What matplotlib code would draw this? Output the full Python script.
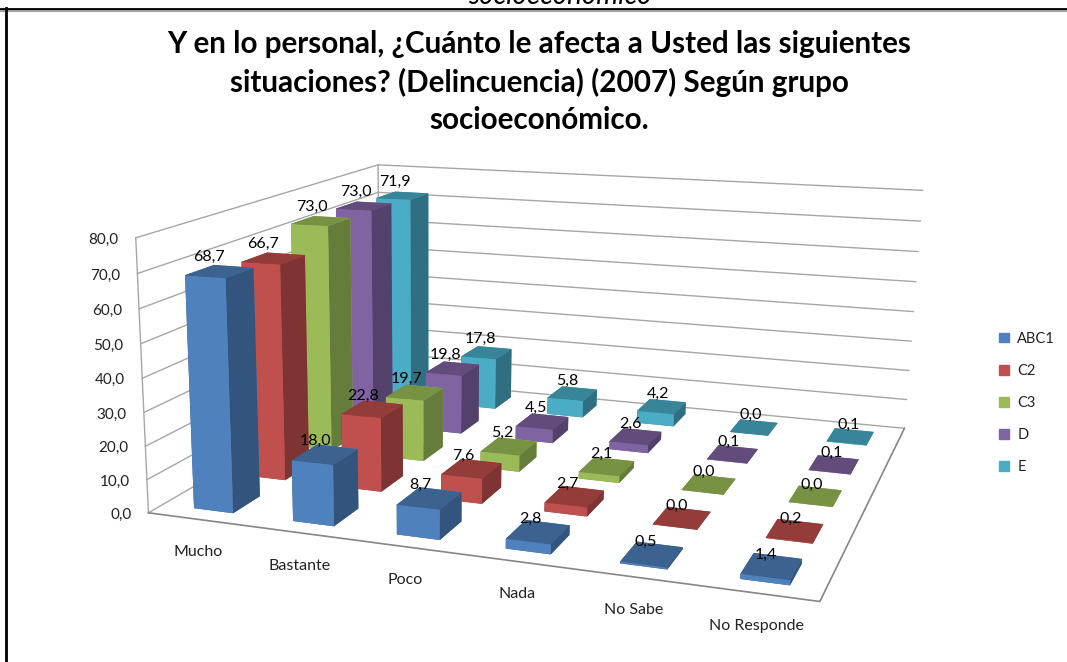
import numpy as np
import matplotlib
matplotlib.use('Agg')
import matplotlib.pyplot as plt
from matplotlib.lines import Line2D
from matplotlib.patches import Patch

categories = ['Mucho', 'Bastante', 'Poco', 'Nada', 'No Sabe', 'No Responde']
series_names = ['ABC1', 'C2', 'C3', 'D', 'E']
abc1 = [68.7, 18.0, 8.7, 2.8, 0.5, 1.4]
c2 = [66.7, 22.8, 7.6, 2.7, 0.0, 0.2]
c3 = [73.0, 19.7, 5.2, 2.1, 0.0, 0.0]
d = [73.0, 19.8, 4.5, 2.6, 0.1, 0.1]
e = [71.9, 17.8, 5.8, 4.2, 0.0, 0.1]
z_ticks = [0, 10, 20, 30, 40, 50, 60, 70, 80]

front_colors = ['#4F81BD', '#C0504D', '#9BBB59', '#8064A2', '#4BACC6']
top_colors = ['#3C6290', '#943C3A', '#789244', '#614C7C', '#38859A']
side_colors = ['#33547C', '#7E3432', '#667C3A', '#54416B', '#2F6F81']

W = 1067
H = 662

plt.rcParams['font.family'] = ['Lato', 'DejaVu Sans']

fig = plt.figure(figsize=(W / 100, H / 100), dpi=100, facecolor='white')
# square 3d axes as wide as the figure
ax = fig.add_axes([0, (H - W) / 2 / H, 1, W / H], projection='3d')
ax.set_axis_off()
ax.patch.set_visible(False)
ax.computed_zorder = False
ax.set_proj_type('ortho')  # switches off mplot3d's clipping, the camera is below

n_x = len(categories)
n_y = len(series_names)
z_top = z_ticks[-1]

# Excel's camera, calibrated from the corners of the chart box (image pixels)
box_points = [
    ((0, 0, 0), (150, 513)),
    ((n_x, 0, 0), (820, 601)),
    ((n_x, n_y, 0), (905, 429)),
    ((0, n_y, 0), (378, 378)),
    ((0, 0, z_top), (134, 238)),
    ((0, n_y, z_top), (380, 165)),
    ((n_x, n_y, z_top), (922, 190)),
]
rows = []
for (px, py, pz), (u, v) in box_points:
    rows.append([px, py, pz, 1, 0, 0, 0, 0, -u * px, -u * py, -u * pz, -u])
    rows.append([0, 0, 0, 0, px, py, pz, 1, -v * px, -v * py, -v * pz, -v])
cam = np.linalg.svd(np.array(rows, dtype=float))[2][-1].reshape(3, 4)
if cam[2] @ np.array([n_x / 2, n_y / 2, 0, 1]) < 0:
    cam = -cam
cam = cam / (cam[2] @ np.array([n_x / 2, n_y / 2, 0, 1]))

ax.apply_aspect()
to_view = ax.transData.inverted()
(x_a, y_a), (x_b, y_b) = to_view.transform([(0, H), (W, 0)])
sx = (x_b - x_a) / W
sy = (y_b - y_a) / H
M = np.array([
    sx * cam[0] + x_a * cam[2],
    sy * cam[1] + y_a * cam[2],
    cam[2] - np.array([0, 0, 0, 0.5]),
    cam[2],
])
ax.get_proj = lambda: M


def label_at(x, y, z, dx, dy, text, **kwargs):
    # put a 2d text next to the picture position of a data point
    p = cam @ np.array([x, y, z, 1])
    u, v = p[0] / p[2] + dx, p[1] / p[2] + dy
    fig.text(u / W, 1 - v / H, text, **kwargs)


# walls and floor
wall_color = '#A6A6A6'
for z in z_ticks:
    ax.plot([0, 0, n_x], [0, n_y, n_y], [z, z, z], color=wall_color, lw=1, zorder=1)
ax.plot([0, 0], [0, 0], [0, z_top], color=wall_color, lw=1, zorder=1)
ax.plot([0, 0], [n_y, n_y], [0, z_top], color=wall_color, lw=1, zorder=1)
ax.plot([0, n_x, n_x], [0, 0, n_y], [0, 0, 0], color='#868686', lw=1.2, zorder=1)

# bars, painted from the back row forward and left to right
values = [abc1, c2, c3, d, e]
bar_w = 0.40
bar_d = 0.5
order = 2
for s in reversed(range(n_y)):
    for i in range(n_x):
        # face order: bottom, top, -y, +y, -x, +x
        colors = [top_colors[s], top_colors[s], front_colors[s],
                  front_colors[s], side_colors[s], side_colors[s]]
        ax.bar3d(i + 0.32, s + (1 - bar_d) / 2, 0, bar_w, bar_d, values[s][i],
                 color=colors, shade=False, linewidth=0, zorder=order)
        order += 1

# Excel's labels drift right and down towards the far categories
for s in range(n_y):
    for i in range(n_x):
        label_at(i + 0.5, s + 0.5, values[s][i], -9 + 1.2 * i + 0.8 * s, -14 + 0.5 * i,
                 f'{values[s][i]:.1f}'.replace('.', ','),
                 ha='center', va='center', fontsize=11.5, color='black')

for z in z_ticks:
    label_at(0, 0, z, -17, 2, f'{z:.1f}'.replace('.', ','), ha='right', va='center',
             fontsize=11, color='#222222')
for i, name in enumerate(categories):
    label_at(i + 0.5, 0, 0, 1, 33, name, ha='center', va='center', fontsize=11.5,
             color='#222222')

handles = [Patch(color=c) for c in front_colors]
fig.legend(handles, series_names, loc='center left', bbox_to_anchor=(986 / W, 1 - 403 / H),
           frameon=False, fontsize=10.5, handlelength=0.65, handleheight=0.65,
           labelspacing=1.25, handletextpad=0.6, labelcolor='#222222')

title = 'Y en lo personal, ¿Cuánto le afecta a Usted las siguientes\nsituaciones? (Delincuencia) (2007) Según grupo\nsocioeconómico.'
fig.text(539 / W, 1 - 82 / H, title, ha='center', va='center', fontsize=21.3, fontweight='bold',
         linespacing=1.42, color='black')
fig.text(560 / W, 1 - 4 / H, 'socioeconómico', ha='center', va='baseline', fontsize=20,
         style='italic', color='black')

# frame of the screenshot
fig.add_artist(Line2D([0, 1], [1 - 8.5 / H, 1 - 8.5 / H], color='black', lw=2))
fig.add_artist(Line2D([0, 1], [1 - 10.5 / H, 1 - 10.5 / H], color='#A0A0A0', lw=1.5))
fig.add_artist(Line2D([6 / W, 6 / W], [0, 1 - 8 / H], color='black', lw=2))

fig.savefig('out.png', dpi=100)
